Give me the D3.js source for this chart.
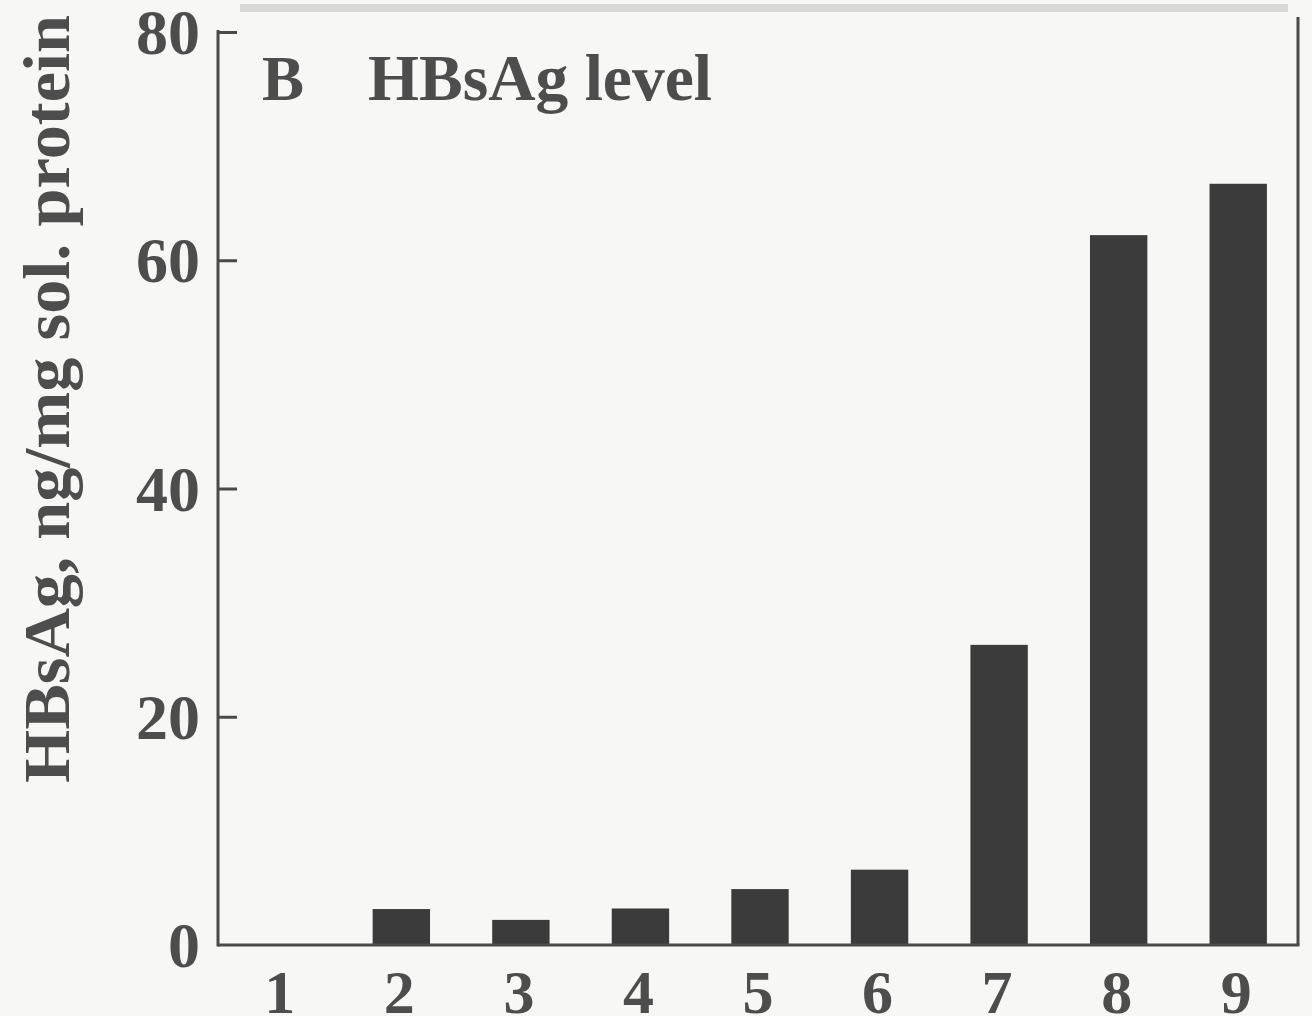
<!DOCTYPE html>
<html>
<head>
<meta charset="utf-8">
<script src="https://cdn.jsdelivr.net/npm/d3@7"></script>
<style>
  html, body { margin: 0; padding: 0; background: #f7f7f5; }
  svg { display: block; }
  text { font-family: "Liberation Serif", "DejaVu Serif", serif; font-weight: bold; fill: #4d4d4d; }
</style>
</head>
<body>
<svg id="chart" width="1312" height="1016"></svg>
<script>
const categories = ["1", "2", "3", "4", "5", "6", "7", "8", "9"];
const values = [0, 3.15, 2.2, 3.2, 4.9, 6.6, 26.3, 62.2, 66.7];
const yTicks = [0, 20, 40, 60, 80];
const panelLetter = "B";
const titleText = "HBsAg level";
const yLabel = "HBsAg, ng/mg sol. protein";

(function () {
const svg = d3.select("#chart");
const pLeft = 218, pRight = 1298, pTop = 32, pBottom = 945;
const ink = "#4a4a4a";

const x = d3.scaleBand().domain(categories).range([222, pRight]).paddingInner(0.52).paddingOuter(0.26);
const y = d3.scaleLinear().domain([0, 80]).range([pBottom, pTop]);

// faint scan band at top
svg.append("rect").attr("x", 240).attr("y", 4).attr("width", 1048).attr("height", 8)
  .attr("fill", "#d8d8d6");

// bars
svg.append("g").selectAll("rect").data(values).join("rect")
  .attr("x", (d, i) => x(categories[i]))
  .attr("width", x.bandwidth())
  .attr("y", d => y(d))
  .attr("height", d => y(0) - y(d))
  .attr("fill", "#3b3b3b");

// y axis with inward ticks
const yAxis = d3.axisRight(y).tickValues(yTicks).tickSize(19).tickFormat("");
const gy = svg.append("g").attr("transform", `translate(${pLeft},0)`).call(yAxis);
gy.select(".domain").remove();
gy.selectAll(".tick line").attr("stroke", ink).attr("stroke-width", 3);
gy.selectAll(".tick").filter(d => d === 0).remove();
svg.append("line").attr("x1", pLeft).attr("x2", pLeft).attr("y1", pTop - 2).attr("y2", pBottom + 1.5)
  .attr("stroke", ink).attr("stroke-width", 3);

// y tick labels
svg.append("g").selectAll("text").data(yTicks).join("text")
  .attr("x", 200).attr("y", d => y(d) + 22)
  .attr("text-anchor", "end").attr("font-size", 64)
  .text(d => d);

// x baseline and right frame
svg.append("line").attr("x1", pLeft).attr("x2", pRight + 1.5).attr("y1", pBottom).attr("y2", pBottom)
  .attr("stroke", ink).attr("stroke-width", 3);
svg.append("line").attr("x1", pRight).attr("x2", pRight).attr("y1", 17).attr("y2", pBottom)
  .attr("stroke", ink).attr("stroke-width", 3);

// x labels
svg.append("g").selectAll("text").data(categories).join("text")
  .attr("x", d => x(d) + x.bandwidth() / 2 - 2)
  .attr("y", 1013)
  .attr("text-anchor", "middle").attr("font-size", 62)
  .text(d => d);

// title
svg.append("text").attr("x", 262).attr("y", 100).attr("font-size", 64)
  .attr("textLength", 42).attr("lengthAdjust", "spacingAndGlyphs").text(panelLetter);
svg.append("text").attr("x", 368).attr("y", 100).attr("font-size", 66)
  .attr("textLength", 344).attr("lengthAdjust", "spacingAndGlyphs").text(titleText);

// y label
svg.append("text")
  .attr("transform", "translate(69,783) rotate(-90)")
  .attr("font-size", 66)
  .attr("textLength", 768).attr("lengthAdjust", "spacingAndGlyphs")
  .text(yLabel);
})();
</script>
</body>
</html>
